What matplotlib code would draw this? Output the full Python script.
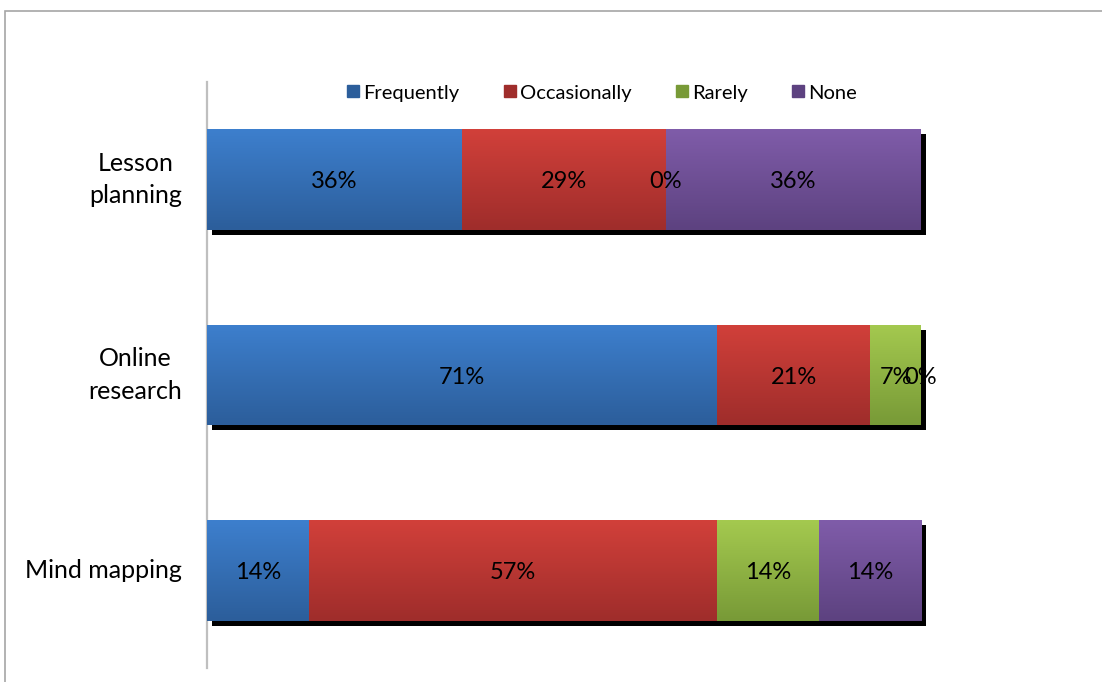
import numpy as np
import matplotlib.pyplot as plt
from matplotlib.patches import Rectangle
from matplotlib import transforms
from matplotlib.colors import LinearSegmentedColormap

plt.rcParams['font.family'] = ['Lato', 'DejaVu Sans']

categories = ['Mind mapping', 'Online\nresearch', 'Lesson\nplanning']
series = ['Frequently', 'Occasionally', 'Rarely', 'None']
frequently = [14.29, 71.43, 35.71]
occasionally = [57.14, 21.43, 28.57]
rarely = [14.29, 7.14, 0.0]
none = [14.29, 0.0, 35.71]
values = [frequently, occasionally, rarely, none]

# top / bottom colours of the gradient fill
tops = ['#3d7fcd', '#d1403a', '#a4c94f', '#7f5ca9']
bottoms = ['#2c5e9b', '#9f2d2b', '#789a37', '#5d4280']

fig = plt.figure(figsize=(11.02, 6.82), dpi=100)
fig.patches.append(Rectangle((5 / 1102, -0.1), 1.2, 1 - 11 / 682 + 0.1,
                             transform=fig.transFigure, fill=False,
                             edgecolor='#a6a6a6', linewidth=1.2))
ax = fig.add_axes([207 / 1102, 14 / 682, 714 / 1102, 586 / 682])

y = np.arange(len(categories))
h = 0.517

# shadow behind each bar
shadow = transforms.offset_copy(ax.transData, fig=fig, x=5, y=-5, units='dots')
ax.barh(y, [100] * len(y), height=h, color='black', transform=shadow,
        zorder=1, clip_on=False)

# data labels sit a touch below the bar centre, like in the original
lab = transforms.offset_copy(ax.transData, fig=fig, x=0, y=-2, units='dots')

left = np.zeros(len(y))
for vals, top, bot, name in zip(values, tops, bottoms, series):
    bars = ax.barh(y, vals, left=left, height=h, color=top, label=name, zorder=2)
    cmap = LinearSegmentedColormap.from_list(name, [bot, top])
    grad = np.linspace(0, 1, 64).reshape(-1, 1)
    for b, v, l in zip(bars, vals, left):
        if v > 0:
            x0, y0 = b.get_x(), b.get_y()
            im = ax.imshow(grad, cmap=cmap, aspect='auto', origin='upper',
                           extent=[x0, x0 + b.get_width(), y0 + b.get_height(), y0],
                           zorder=3)
            im.set_clip_path(b)
        ax.text(l + v / 2, b.get_y() + b.get_height() / 2, f'{v:.0f}%',
                ha='center', va='center', fontsize=17, zorder=4,
                clip_on=False, transform=lab)
    left += np.array(vals)

ax.set_xlim(0, 100)
ax.set_ylim(-0.5, 2.5)
ax.set_yticks(y)
ax.set_yticklabels(categories, fontsize=18, multialignment='center',
                   linespacing=1.5, va='center')
ax.tick_params(axis='y', length=0, pad=18)
ax.set_xticks([])
for s in ['top', 'right', 'bottom']:
    ax.spines[s].set_visible(False)
ax.spines['left'].set_color('#bfbfbf')
ax.spines['left'].set_linewidth(1.6)

handles = [plt.Line2D([], [], marker='s', linestyle='', markersize=9,
                      markerfacecolor=c, markeredgecolor=c) for c in bottoms]
fig.legend(handles, series, loc='center', bbox_to_anchor=(601 / 1102, 1 - 93 / 682),
           ncol=4, frameon=False, fontsize=14.5, handletextpad=0.1,
           columnspacing=2.1, handlelength=0.8)

fig.savefig('out.png', dpi=100)
